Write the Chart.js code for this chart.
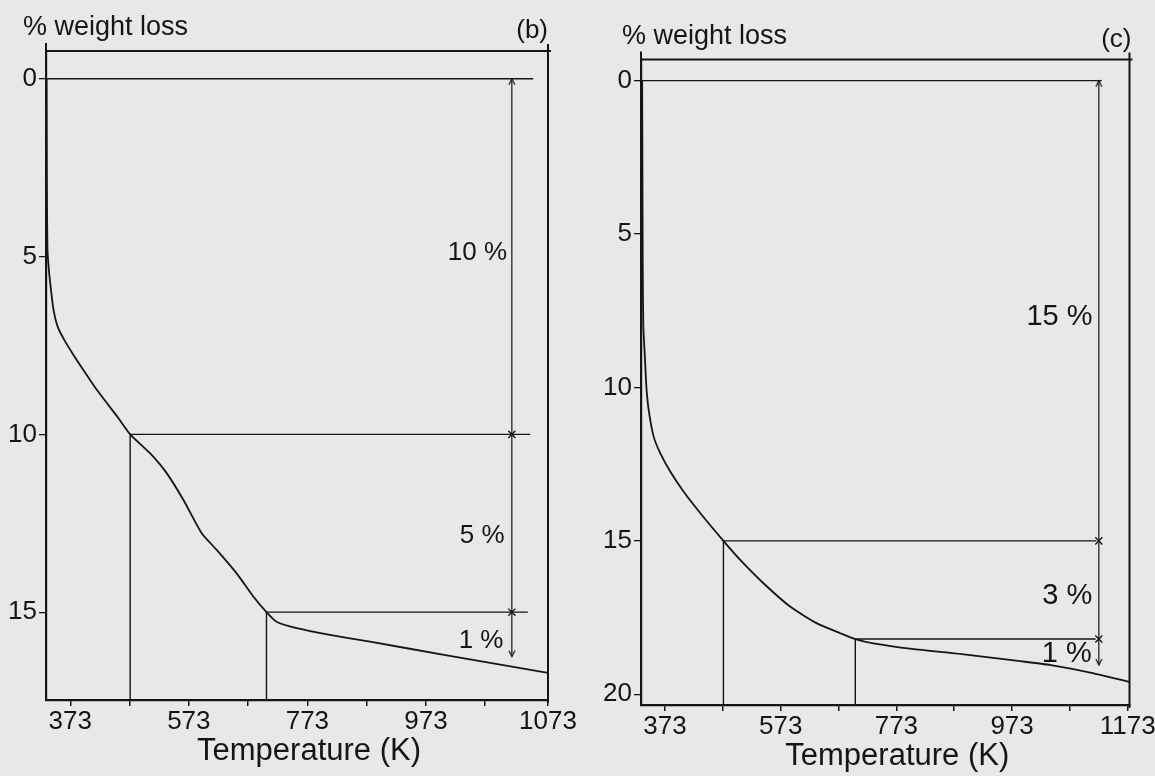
<!DOCTYPE html>
<html>
<head>
<meta charset="utf-8">
<script src="https://cdn.jsdelivr.net/npm/chart.js@4.4.1/dist/chart.umd.min.js"></script>
<style>
html, body { margin: 0; padding: 0; background: #e8e8e8; }
#wrap { position: relative; width: 1155px; height: 776px; overflow: hidden; }
canvas { position: absolute; top: 0; }
</style>
</head>
<body>
<div id="wrap">
<canvas id="chartB" width="580" height="776" style="left:0"></canvas>
<canvas id="chartC" width="600" height="776" style="left:580px"></canvas>
</div>
<script>
var ink = '#151515';
var face = '"Liberation Sans", Arial, sans-serif';

// panel (b)
var bCurveT = [333, 333.5, 334.5, 337, 340.5, 344.7, 351.7, 363, 380, 397, 414, 437, 454, 474, 507.5, 535.6, 563.7, 594.7, 620, 653.7, 681.8, 704, 721, 755, 811, 878.7, 1003.5, 1179];
var bCurveW = [0, 3.0, 4.8, 5.4, 5.95, 6.5, 6.97, 7.35, 7.81, 8.24, 8.66, 9.17, 9.54, 10.0, 10.53, 11.09, 11.84, 12.78, 13.25, 13.91, 14.56, 15.0, 15.27, 15.45, 15.64, 15.83, 16.2, 16.71];
var bStepW = [0, 10, 15];
var bStepT = [332, 474, 704];
var bStepEnd = [1154, 1149, 1145];
var bArrowT = 1118;
var bArrowW = [0, 10, 15, 16.25];
var bNotes = ['10 %', '5 %', '1 %'];
var bNoteT = [1060, 1068, 1066];
var bNoteW = [4.9, 12.86, 15.81];
var bXTicks = [373, 473, 573, 673, 773, 873, 973, 1073, 1179];
var bXLabels = ['373', '', '573', '', '773', '', '973', '', '1073'];
var bYTicks = [0, 5, 10, 15];

// panel (c)
var cCurveT = [333.5, 334, 334.5, 335.5, 338.5, 340.8, 344.8, 353.5, 365, 382.3, 405.3, 434.2, 474, 503.4, 543.6, 589.8, 635.8, 676.2, 702, 733, 800, 886, 987, 1040, 1110, 1176];
var cCurveW = [0, 3, 6, 8, 9.11, 9.98, 10.74, 11.61, 12.15, 12.75, 13.4, 14.1, 15.0, 15.63, 16.39, 17.15, 17.69, 18.01, 18.2, 18.34, 18.52, 18.69, 18.92, 19.05, 19.3, 19.6];
var cStepW = [0, 15, 18.2];
var cStepT = [331.5, 474, 702];
var cStepEnd = [1128, 1119, 1117.5];
var cArrowT = 1123;
var cArrowW = [0, 15, 18.2, 19.05];
var cNotes = ['15 %', '3 %', '1 %'];
var cNoteT = [1055, 1068.5, 1067.6];
var cNoteW = [7.7, 16.8, 18.69];
var cXTicks = [373, 473, 573, 673, 773, 873, 973, 1073, 1173];
var cXLabels = ['373', '', '573', '', '773', '', '973', '', '1173'];
var cYTicks = [0, 5, 10, 15, 20];

function arrowHead(dir) {
    var c = document.createElement('canvas');
    c.width = 10; c.height = 16;
    var g = c.getContext('2d');
    g.strokeStyle = ink; g.lineWidth = 1.2;
    g.beginPath();
    if (dir < 0) { g.moveTo(2, 14); g.lineTo(5, 8); g.lineTo(8, 14); }
    else { g.moveTo(2, 2); g.lineTo(5, 8); g.lineTo(8, 2); }
    g.stroke();
    return c;
}
var headUp = arrowHead(-1), headDown = arrowHead(1);

var framePlugin = {
    id: 'frame',
    afterDatasetsDraw: function(chart, args, o) {
        var a = chart.chartArea, ctx = chart.ctx;
        var xs = chart.scales.x, ys = chart.scales.y;
        ctx.save();
        ctx.strokeStyle = ink;
        ctx.lineWidth = 2;
        ctx.beginPath();
        ctx.moveTo(a.left, a.top - 8); ctx.lineTo(a.left, a.top);
        ctx.moveTo(a.left, a.top); ctx.lineTo(a.right + 3, a.top);
        ctx.moveTo(a.right, a.top - 7); ctx.lineTo(a.right, a.bottom + 3);
        ctx.stroke();

        ctx.fillStyle = ink;
        ctx.textBaseline = 'alphabetic';
        ctx.font = '27px ' + face;
        ctx.textAlign = 'left';
        ctx.fillText('% weight loss', a.left - o.headDx, a.top - 16);
        ctx.font = '26px ' + face;
        ctx.textAlign = 'right';
        ctx.fillText(o.tag, a.right + o.tagDx, a.top - 13);

        ctx.font = '31px ' + face;
        ctx.textAlign = 'center';
        ctx.fillText('Temperature (K)', (a.left + a.right) / 2 + 12, a.bottom + 60);

        ctx.font = o.noteSize + 'px ' + face;
        ctx.textBaseline = 'middle';
        o.notes.forEach(function(n, i) {
            ctx.fillText(n, xs.getPixelForValue(o.noteT[i]), ys.getPixelForValue(o.noteW[i]));
        });
        ctx.restore();
    }
};

function makePanel(id, p) {
    var sets = [];
    sets.push({
        data: p.curveT.map(function(t, i) { return { x: t, y: p.curveW[i] }; }),
        borderColor: ink, borderWidth: 1.8, pointRadius: 0, showLine: true, tension: 0.2
    });
    p.stepW.forEach(function(w, i) {
        sets.push({
            data: [{ x: p.stepT[i], y: w }, { x: p.stepEnd[i], y: w }],
            borderColor: ink, borderWidth: 1.4, pointRadius: 0, showLine: true
        });
        if (i > 0) {
            sets.push({
                data: [{ x: p.stepT[i], y: w }, { x: p.stepT[i], y: p.yMax }],
                borderColor: ink, borderWidth: 1.4, pointRadius: 0, showLine: true
            });
        }
    });
    var last = p.arrowW.length - 1;
    sets.push({
        data: p.arrowW.map(function(w) { return { x: p.arrowT, y: w }; }),
        borderColor: ink, borderWidth: 1.2, showLine: true,
        pointStyle: p.arrowW.map(function(w, i) { return i === 0 ? headUp : (i === last ? headDown : 'crossRot'); }),
        pointRadius: 5, pointBorderWidth: 1.4, pointBorderColor: ink, pointBackgroundColor: ink
    });

    var ctx = document.getElementById(id).getContext('2d');
    return new Chart(ctx, {
        type: 'scatter',
        data: { datasets: sets },
        plugins: [framePlugin],
        options: {
            responsive: false,
            devicePixelRatio: 1,
            animation: false,
            events: [],
            layout: { padding: { top: p.padTop, right: p.padRight, left: 0, bottom: 0 } },
            plugins: {
                legend: { display: false },
                tooltip: { enabled: false },
                frame: { tag: p.tag, tagDx: p.tagDx, headDx: p.headDx, notes: p.notes, noteT: p.noteT, noteW: p.noteW, noteSize: p.noteSize }
            },
            scales: {
                x: {
                    type: 'linear', min: p.xMin, max: p.xMax,
                    afterBuildTicks: function(axis) { axis.ticks = p.xTicks.map(function(v) { return { value: v }; }); },
                    afterFit: function(axis) { axis.height = p.xHeight; },
                    ticks: {
                        autoSkip: false, maxRotation: 0, padding: 0, color: ink,
                        font: { family: face, size: 26 },
                        callback: function(v) { var i = p.xTicks.indexOf(v); return i < 0 ? '' : p.xLabels[i]; }
                    },
                    grid: { drawOnChartArea: false, drawTicks: true, tickLength: 6, color: ink, lineWidth: 1.5 },
                    border: { display: true, color: ink, width: 2.2 }
                },
                y: {
                    type: 'linear', reverse: true, min: p.yMin, max: p.yMax,
                    afterBuildTicks: function(axis) { axis.ticks = p.yTicks.map(function(v) { return { value: v }; }); },
                    afterFit: function(axis) { axis.width = p.yWidth; },
                    ticks: {
                        padding: 2, color: ink, font: { family: face, size: 26 },
                        callback: function(v) { return String(v); }
                    },
                    grid: { drawOnChartArea: false, drawTicks: true, tickLength: 7, color: ink, lineWidth: 1.3 },
                    border: { display: true, color: ink, width: 2.2 }
                }
            }
        }
    });
}

var chartB = makePanel('chartB', {
    curveT: bCurveT, curveW: bCurveW, stepW: bStepW, stepT: bStepT, stepEnd: bStepEnd,
    arrowT: bArrowT, arrowW: bArrowW, notes: bNotes, noteT: bNoteT, noteW: bNoteW, noteSize: 26,
    xTicks: bXTicks, xLabels: bXLabels, yTicks: bYTicks,
    xMin: 332, xMax: 1179, yMin: -0.78, yMax: 17.47,
    padTop: 51, padRight: 32, yWidth: 46, xHeight: 76,
    tag: '(b)', tagDx: 0, headDx: 23
});

var chartC = makePanel('chartC', {
    curveT: cCurveT, curveW: cCurveW, stepW: cStepW, stepT: cStepT, stepEnd: cStepEnd,
    arrowT: cArrowT, arrowW: cArrowW, notes: cNotes, noteT: cNoteT, noteW: cNoteW, noteSize: 29,
    xTicks: cXTicks, xLabels: cXLabels, yTicks: cYTicks,
    xMin: 331.5, xMax: 1176, yMin: -0.69, yMax: 20.35,
    padTop: 59.5, padRight: 50.5, yWidth: 61, xHeight: 71,
    tag: '(c)', tagDx: 2, headDx: 19
});
</script>
</body>
</html>
